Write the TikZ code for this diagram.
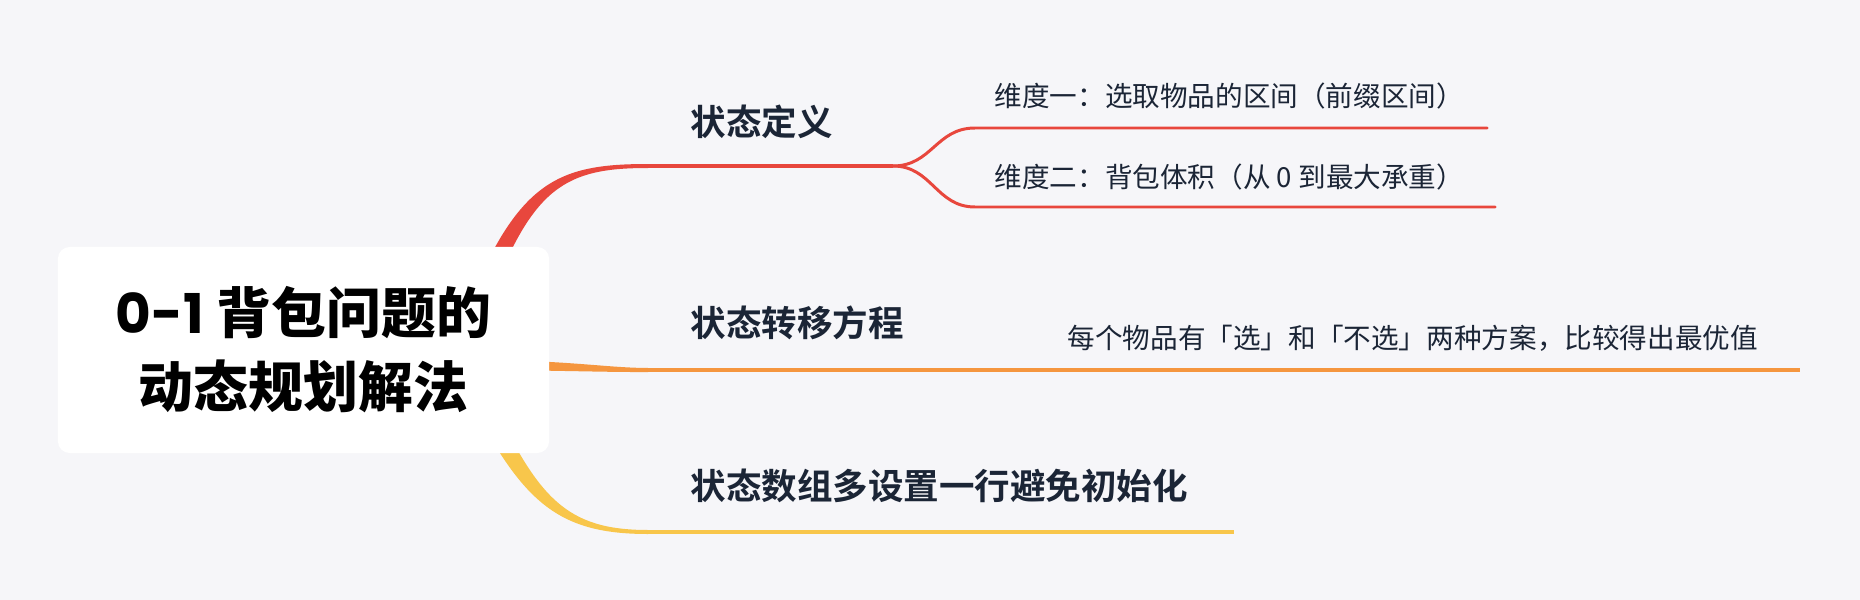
\documentclass[tikz,border=0pt]{standalone}
\usepackage{fontspec}
\newfontfamily\cjk{Noto Sans CJK SC}
\newfontfamily\cjkb{Noto Sans CJK SC Bold}
\newfontfamily\cjkh{Noto Sans CJK SC Black}
\newfontfamily\latinh{Poppins Bold}
\usetikzlibrary{positioning}

\definecolor{bgcol}{HTML}{F6F6F9}
\definecolor{inkcol}{HTML}{1B2536}
\definecolor{redcol}{HTML}{E8473D}
\definecolor{orangecol}{HTML}{F5963F}
\definecolor{yellowcol}{HTML}{F8C64B}

\pgfdeclarelayer{background}
\pgfsetlayers{background,main}

\begin{document}
\begin{tikzpicture}[x = 0.01cm, y = -0.01cm,
	rootbox/.style = {fill = white, rounded corners = 0.12cm, minimum width = 4.91cm, minimum height = 2.06cm,
		align = center, inner sep = 0, text = black, font = \cjkh\fontsize{15.6}{21}\selectfont},
	topic/.style = {anchor = base west, inner sep = 0, text = inkcol, font = \cjkb\fontsize{10.1}{12}\selectfont},
	subtopic/.style = {anchor = base west, inner sep = 0, text = inkcol, font = \cjk\fontsize{7.85}{10}\selectfont},
	subline/.style = {line width = 0.85pt, line cap = round}]

	% Frame

	\useasboundingbox (0, 0) rectangle (1860, 600);

	% Central topic

	\node [rootbox] (root) at (303.5, 350) {{\latinh 0-1} 背包问题的\\动态规划解法};

	% Main topics

	\node [topic] (def) at (690, 135.5) {状态定义};
	\node [topic] (trans) at (690, 336.5) {状态转移方程};
	\node [topic] (arr) at (690, 499) {状态数组多设置一行避免初始化};

	% Sub topics

	\node [subtopic] (dim1) at (994, 106) {维度一：选取物品的区间（前缀区间）};
	\node [subtopic] (dim2) at (994, 187) {维度二：背包体积（从 0 到最大承重）};
	\node [subtopic] (cmp) at (1067, 348.5) {每个物品有「选」和「不选」两种方案，比较得出最优值};

	% Underline ends

	\coordinate (defL) at (648, 166);  \coordinate (defR) at (893, 166);
	\coordinate (dim1L) at (975, 128); \coordinate (dim1R) at (1487, 128);
	\coordinate (dim2L) at (975, 207); \coordinate (dim2R) at (1495, 207);
	\coordinate (transL) at (648, 370); \coordinate (transR) at (1800, 370);
	\coordinate (arrL) at (648, 532);  \coordinate (arrR) at (1234, 532);

	\begin{pgfonlayer}{background}

		\fill [bgcol] (0, 0) rectangle (1860, 600);

		% Tapered branches out of the central topic

		\fill [redcol] (470, 300) .. controls (520, 180) and (560, 164) .. ([yshift = 0.02cm] defL)
			-- ([yshift = -0.02cm] defL) .. controls (566, 168) and (532, 186) .. (488, 306) -- cycle;
		\fill [orangecol] (500, 360) .. controls (580, 362) and (610, 367.8) .. ([yshift = 0.02cm] transL)
			-- ([yshift = -0.02cm] transL) .. controls (610, 372.2) and (580, 371) .. (500, 370) -- cycle;
		\fill [yellowcol] (472, 404) .. controls (524, 504) and (560, 534) .. ([yshift = -0.02cm] arrL)
			-- ([yshift = 0.02cm] arrL) .. controls (566, 530) and (538, 498) .. (490, 396) -- cycle;

		% Underlines

		\draw [redcol, line width = 1pt] (defL) -- (defR);
		\draw [redcol, subline] (defR) .. controls (932, 166) and (936, 128) .. (dim1L) -- (dim1R);
		\draw [redcol, subline] (defR) .. controls (932, 166) and (936, 207) .. (dim2L) -- (dim2R);
		\draw [orangecol, line width = 1.15pt] (transL) -- (transR);
		\draw [yellowcol, line width = 1.15pt] (arrL) -- (arrR);

	\end{pgfonlayer}

\end{tikzpicture}
\end{document}
